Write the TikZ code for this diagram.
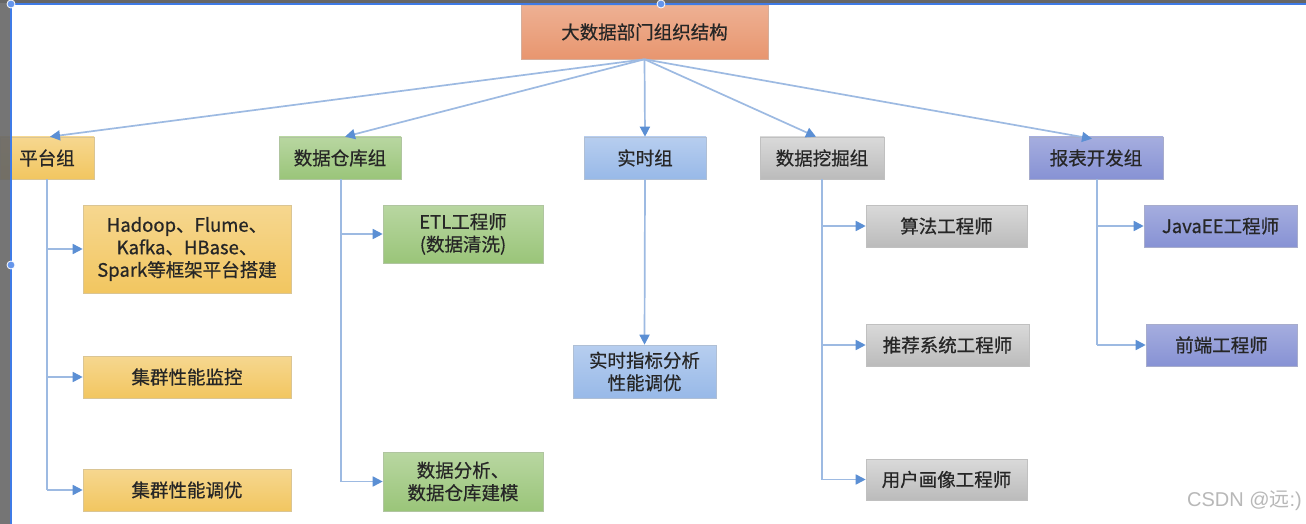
\documentclass[tikz,border=0pt]{standalone}
\usepackage{fontspec}
\setmainfont{Noto Sans CJK SC}[FakeBold=0.6]
\newfontfamily\wmfont{Liberation Sans}
\newfontfamily\wmcjk{Noto Sans CJK SC}
\usetikzlibrary{arrows.meta}
\definecolor{lineblue}{HTML}{9DBAE2}
\definecolor{tipblue}{HTML}{5B8FD4}
\definecolor{selblue}{HTML}{3F7BE6}
\definecolor{toporange}{HTML}{E8966F}
\definecolor{yel}{HTML}{F2C660}
\definecolor{grn}{HTML}{9AC579}
\definecolor{blu}{HTML}{98B9E8}
\definecolor{gry}{HTML}{BBBBBB}
\definecolor{pur}{HTML}{8792D4}
\tikzset{
  box/.style={draw=#1!80!black!60, line width=0.6pt, inner sep=0pt, align=center,
    font=\fontsize{18.5}{22.5}\selectfont, text=black!85},
  topbox/.style={box=toporange, top color=toporange!75!white, bottom color=toporange},
  ybox/.style={box=yel, top color=yel!70!white, bottom color=yel},
  gbox/.style={box=grn, top color=grn!70!white, bottom color=grn},
  bbox/.style={box=blu, top color=blu!70!white, bottom color=blu},
  kbox/.style={box=gry, top color=gry!55!white, bottom color=gry},
  pbox/.style={box=pur, top color=pur!75!white, bottom color=pur},
  conn/.style={draw=lineblue, line width=1.7pt,
    -{Triangle[length=10pt,width=10pt,color=tipblue,fill=tipblue]}},
  trunk/.style={draw=lineblue, line width=1.7pt},
}
\begin{document}
\begin{tikzpicture}[x=1pt,y=-1pt]
\useasboundingbox (0,0) rectangle (1306,524);
\fill[white] (0,0) rectangle (1306,524);

% top
\node[topbox, minimum width=247pt, minimum height=54pt] (top) at (644.5,32) {大数据部门组织结构};

% groups
\node[ybox, minimum width=94pt, minimum height=42pt] (g1) at (47,158) {平台组};
\node[gbox, minimum width=122pt, minimum height=42pt] (g2) at (340,158) {数据仓库组};
\node[bbox, minimum width=122pt, minimum height=42pt] (g3) at (645,158) {实时组};
\node[kbox, minimum width=124pt, minimum height=42pt] (g4) at (822,158) {数据挖掘组};
\node[pbox, minimum width=134pt, minimum height=42pt] (g5) at (1096,158) {报表开发组};

% platform children
\node[ybox, minimum width=208pt, minimum height=88pt] (p1) at (187,249) {Hadoop、Flume、\\Kafka、HBase、\\Spark等框架平台搭建};
\node[ybox, minimum width=208pt, minimum height=42pt] (p2) at (187,377) {集群性能监控};
\node[ybox, minimum width=208pt, minimum height=42pt] (p3) at (187,490) {集群性能调优};

% warehouse children
\node[gbox, minimum width=160pt, minimum height=58pt] (d1) at (463,234) {ETL工程师\\(数据清洗)};
\node[gbox, minimum width=160pt, minimum height=59pt] (d2) at (463,481.5) {数据分析、\\数据仓库建模};

% realtime child
\node[bbox, minimum width=143pt, minimum height=53pt] (r1) at (644.5,371.5) {实时指标分析\\性能调优};

% mining children
\node[kbox, minimum width=161pt, minimum height=42pt] (m1) at (946.5,226) {算法工程师};
\node[kbox, minimum width=163pt, minimum height=42pt] (m2) at (947.5,345) {推荐系统工程师};
\node[kbox, minimum width=161pt, minimum height=41pt] (m3) at (946.5,479.5) {用户画像工程师};

% report children
\node[pbox, minimum width=153pt, minimum height=42pt] (j1) at (1220.5,226) {JavaEE工程师};
\node[pbox, minimum width=151pt, minimum height=42pt] (j2) at (1221.5,345) {前端工程师};

% top connectors
\draw[conn] (top.south) -- ([xshift=3pt]g1.north);
\draw[conn] (top.south) -- ([xshift=5pt]g2.north);
\draw[conn] (top.south) -- (g3.north);
\draw[conn] (top.south) -- ([xshift=-6pt]g4.north);
\draw[conn] (top.south) -- ([xshift=-4pt,yshift=-2pt]g5.north);

% trunks
\draw[trunk] (g1.south) -- (g1.south |- p3.west);
\draw[conn] (g1.south |- p1.west) -- (p1.west);
\draw[conn] (g1.south |- p2.west) -- (p2.west);
\draw[conn] (g1.south |- p3.west) -- (p3.west);

\draw[trunk] ([xshift=1pt]g2.south) -- ([xshift=1pt]g2.south |- d2.west);
\draw[conn] ([xshift=1pt]g2.south |- d1.west) -- (d1.west);
\draw[conn] ([xshift=1pt]g2.south |- d2.west) -- (d2.west);

\draw[conn] (g3.south) -- (r1.north);

\draw[trunk] (g4.south) -- (g4.south |- m3.west);
\draw[conn] (g4.south |- m1.west) -- (m1.west);
\draw[conn] (g4.south |- m2.west) -- (m2.west);
\draw[conn] (g4.south |- m3.west) -- (m3.west);

\draw[trunk] ([xshift=1pt]g5.south) -- ([xshift=1pt]g5.south |- j2.west);
\draw[conn] ([xshift=1pt]g5.south |- j1.west) -- (j1.west);
\draw[conn] ([xshift=1pt]g5.south |- j2.west) -- (j2.west);

% watermark
\node[text=black!28, font=\fontsize{20}{22}\selectfont, anchor=east, inner sep=0pt] (wm) at (1302,501) {\wmfont CSDN @\wmcjk 远\wmfont :)};

% screenshot frame artefacts
\fill[black!60, opacity=0.9] (0,0) rectangle (10,524);
\fill[black!60] (0,0) rectangle (1306,3);
\draw[selblue, line width=1.5pt] (11,4) -- (1306,4);
\draw[selblue, line width=1.5pt] (11,4) -- (11,524);
\foreach \p in {(11,4),(661,4),(11,265)}
  \filldraw[fill=selblue!80, draw=white, line width=0.8pt] \p circle (4pt);
\end{tikzpicture}
\end{document}
